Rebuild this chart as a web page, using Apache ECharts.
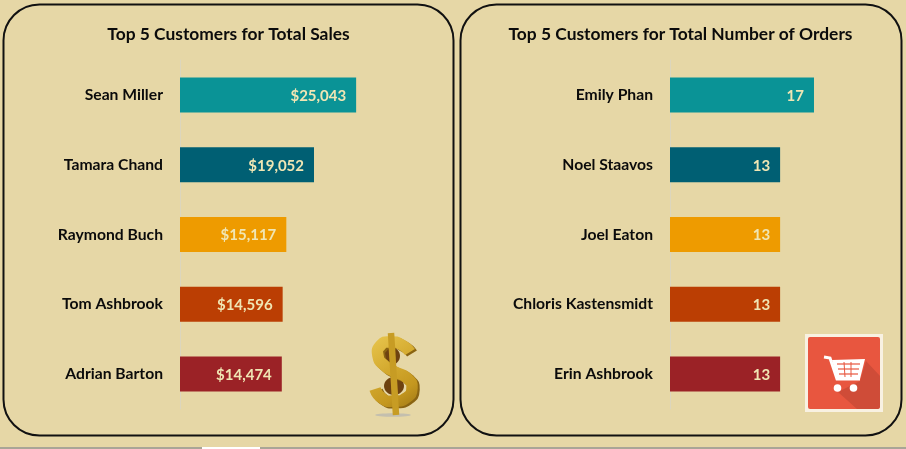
<!DOCTYPE html>
<html>
<head>
<meta charset="utf-8">
<style>
  html, body { margin: 0; padding: 0; background: #e6d7a6; }
  #main { width: 906px; height: 449px; }
</style>
<script src="https://cdn.jsdelivr.net/npm/echarts@6/dist/echarts.min.js"></script>
</head>
<body>
<div id="main"></div>
<script>
const salesNames = ['Sean Miller', 'Tamara Chand', 'Raymond Buch', 'Tom Ashbrook', 'Adrian Barton'];
const salesValues = [25043, 19052, 15117, 14596, 14474];
const orderNames = ['Emily Phan', 'Noel Staavos', 'Joel Eaton', 'Chloris Kastensmidt', 'Erin Ashbrook'];
const orderValues = [17, 13, 13, 13, 13];
const barColors = ['#0a9396', '#005f73', '#ee9b00', '#bb3e03', '#9b2226'];

const font = 'Lato';
const paper = '#e6d7a6';

function coloured(values) {
  return values.map((v, i) => ({ value: v, itemStyle: { color: barColors[i] } }));
}

function categoryAxis(index, names) {
  return {
    type: 'category', gridIndex: index, inverse: true, data: names,
    axisTick: { show: false },
    axisLine: { show: true, lineStyle: { color: '#dcd6bd', width: 1 } },
    axisLabel: { color: '#0b0b0b', fontFamily: font, fontWeight: 'bold', fontSize: 15.7, margin: 17, padding: [2, 0, 0, 0] }
  };
}

function valueAxis(index, max) {
  return { type: 'value', gridIndex: index, min: 0, max: max, show: false };
}

function barSeries(index, values, fmt) {
  return {
    type: 'bar', xAxisIndex: index, yAxisIndex: index, barWidth: 35,
    data: coloured(values),
    label: {
      show: true, position: 'insideRight', distance: 10, offset: [0, 1], color: '#f0e6b4',
      fontFamily: font, fontWeight: 'bold', fontSize: 15, formatter: fmt
    }
  };
}

const gold = new echarts.graphic.LinearGradient(0, 0, 1, 1, [
  { offset: 0, color: '#e9c74f' },
  { offset: 0.45, color: '#d3a92e' },
  { offset: 0.75, color: '#c4971f' },
  { offset: 1, color: '#a07816' }
]);

const dollarCurve = [[410, 352], [402, 345], [391, 342], [381, 345], [378, 356], [385, 366], [395, 372],
  [407, 378], [412, 388], [406, 398], [394, 401], [383, 399], [375, 389]];

// panels and the two pictures sit behind/over the plots as plain decoration
const decoration = [
  { type: 'rect', z: 0, shape: { x: 3.5, y: 4.5, width: 450, height: 431, r: 36 },
    style: { fill: paper, stroke: '#111', lineWidth: 2 } },
  { type: 'rect', z: 0, shape: { x: 460.5, y: 4.5, width: 441, height: 431, r: 36 },
    style: { fill: paper, stroke: '#111', lineWidth: 2 } },

  // dollar
  { type: 'ellipse', z: 5, shape: { cx: 393, cy: 415, rx: 18, ry: 1.8 }, style: { fill: '#c4bfae' } },
  { type: 'ellipse', z: 6, shape: { cx: 391, cy: 356, rx: 9, ry: 9 }, style: { fill: '#6e4210' } },
  { type: 'ellipse', z: 6, shape: { cx: 394, cy: 386, rx: 10, ry: 9 }, style: { fill: '#6e4210' } },
  { type: 'polyline', z: 7, x: 2, y: 1.5, shape: { points: dollarCurve, smooth: 0.6 }, style: { fill: 'none', stroke: '#8a6412', lineWidth: 11.5 } },
  { type: 'polyline', z: 8, shape: { points: dollarCurve, smooth: 0.6 }, style: { fill: 'none', stroke: gold, lineWidth: 11.5 } },
  { type: 'line', z: 8, shape: { x1: 391, y1: 333, x2: 396, y2: 415 }, style: { stroke: '#c79c24', lineWidth: 6.5 } },

  // cart
  { type: 'rect', z: 5, shape: { x: 805, y: 334, width: 78, height: 78 }, style: { fill: '#f8f1e2' } },
  { type: 'rect', z: 6, shape: { x: 808, y: 337, width: 72, height: 72, r: 2 }, style: { fill: '#e8563f' } },
  { type: 'polygon', z: 7, shape: { points: [[866, 361], [880, 376], [880, 407], [878, 409], [857, 409], [838, 392], [860, 381]] },
    style: { fill: '#cf4c38' } },
  { type: 'polyline', z: 8, shape: { points: [[824, 357], [830, 358], [837, 379], [860, 379]] },
    style: { stroke: '#fff', lineWidth: 3, fill: 'none' } },
  { type: 'polygon', z: 8, shape: { points: [[832, 360], [865, 359], [860, 379], [837, 379]] },
    style: { fill: '#fff' } },
  { type: 'polyline', z: 9, shape: { points: [[837, 364], [860, 364]] }, style: { stroke: '#e8563f', lineWidth: 1.2 } },
  { type: 'polyline', z: 9, shape: { points: [[838, 369], [859, 369]] }, style: { stroke: '#e8563f', lineWidth: 1.2 } },
  { type: 'polyline', z: 9, shape: { points: [[839, 374], [858, 374]] }, style: { stroke: '#e8563f', lineWidth: 1.2 } },
  { type: 'polyline', z: 9, shape: { points: [[844, 362], [845, 377]] }, style: { stroke: '#e8563f', lineWidth: 1 } },
  { type: 'polyline', z: 9, shape: { points: [[851, 362], [851, 377]] }, style: { stroke: '#e8563f', lineWidth: 1 } },
  { type: 'circle', z: 8, shape: { cx: 837.5, cy: 388, r: 3.8 }, style: { fill: '#fff' } },
  { type: 'circle', z: 8, shape: { cx: 853.5, cy: 388, r: 3.8 }, style: { fill: '#fff' } },

  // strip left along the bottom edge of the screenshot
  { type: 'rect', z: 0, shape: { x: 0, y: 447, width: 906, height: 2 }, style: { fill: '#a9a596' } },
  { type: 'rect', z: 1, shape: { x: 202, y: 447, width: 58, height: 2 }, style: { fill: '#ffffff' } }
];

const chart = echarts.init(document.getElementById('main'), null, { renderer: 'canvas' });

chart.setOption({
  backgroundColor: paper,
  animation: false,
  title: [
    { text: 'Top 5 Customers for Total Sales', left: 223.5, top: 21, textAlign: 'center',
      textStyle: { color: '#0b0b0b', fontFamily: font, fontWeight: 'bold', fontSize: 17.4 } },
    { text: 'Top 5 Customers for Total Number of Orders', left: 675.5, top: 21, textAlign: 'center',
      textStyle: { color: '#0b0b0b', fontFamily: font, fontWeight: 'bold', fontSize: 17.4 } }
  ],
  grid: [
    { left: 180, top: 60, width: 211, height: 349 },
    { left: 670, top: 60, width: 169.4, height: 349 }
  ],
  xAxis: [valueAxis(0, 30000), valueAxis(1, 20)],
  yAxis: [categoryAxis(0, salesNames), categoryAxis(1, orderNames)],
  series: [
    barSeries(0, salesValues, p => '$' + p.value.toLocaleString('en-US')),
    barSeries(1, orderValues, p => String(p.value))
  ],
  graphic: { elements: decoration }
});
</script>
</body>
</html>
